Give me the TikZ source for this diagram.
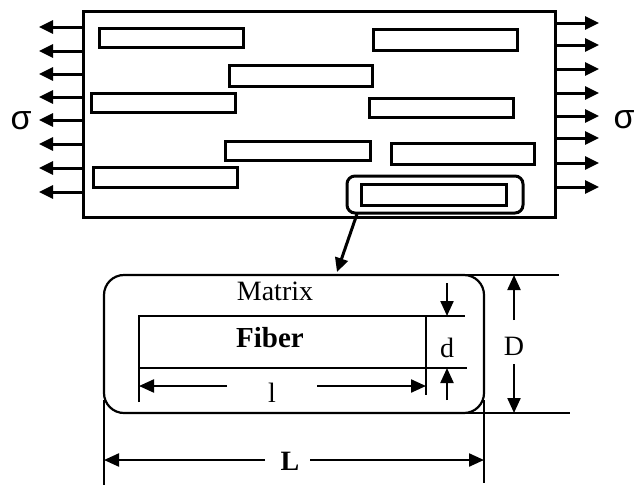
\documentclass[tikz,border=0pt]{standalone}
\usepackage{fontspec}
\setmainfont{Liberation Serif}
\newfontfamily\sigfont{Liberation Sans}
\usetikzlibrary{arrows.meta}

\begin{document}
\begin{tikzpicture}[x=1pt,y=-1pt,
  fib/.style={line width=3pt},
  load/.style={line width=3pt,-{Triangle[length=14pt,width=13pt]}},
  thin2/.style={line width=2.2pt},
  dim/.style={line width=2.2pt,-{Triangle[length=15pt,width=13pt]}},
  lab/.style={font=\fontsize{28}{28}\selectfont,inner sep=0pt}]
  \useasboundingbox (0,0) rectangle (639,485);
  % composite under load
  \draw[fib] (83,11) rectangle (555,217);
  \foreach \xa/\ya/\xb/\yb in {99/28/243/47, 229/65/372/86, 91/93/235/112, 225/141/370/160, 93/167/237/187,
    373/29/517/50, 369/98/513/117, 391/143/534/164, 361/184/506/205}
    \draw[fib] (\xa,\ya) rectangle (\xb,\yb);
  \foreach \y in {27,51,74,97,120,144,168,192} \draw[load] (83,\y) -- (39,\y);
  \foreach \y in {23,45,69,93,116,138,163,187} \draw[load] (555,\y) -- (599,\y);
  \node[lab,font=\sigfont\fontsize{34}{34}\selectfont] (sigL) at (21,121) {σ};
  \node[lab,font=\sigfont\fontsize{34}{34}\selectfont] (sigR) at (624,120) {σ};
  \draw[fib,rounded corners=8pt] (347,176) rectangle (523,213);
  \draw[load] (357,214) -- (337,272);
  % unit cell
  \draw[thin2,rounded corners=20pt] (104,275) rectangle (484,413);
  \draw[thin2] (120,275) -- (559,275);
  \draw[thin2] (120,413) -- (570,413);
  \draw[thin2] (104,400) -- (104,485);
  \draw[thin2] (484,400) -- (484,483);
  \draw[thin2] (139,402) -- (139,316) -- (465,316);
  \draw[thin2] (139,368) -- (467,368);
  \draw[thin2] (426,316) -- (426,395);
  \node[lab] (matrix) at (275,291) {Matrix};
  \node[lab,font=\bfseries\fontsize{29}{29}\selectfont] (fiber) at (270,338) {Fiber};
  \draw[dim] (227,386) -- (139,386);
  \draw[dim] (317,386) -- (426,386);
  \node[lab] (lenl) at (272,393) {l};
  \draw[dim] (447,283) -- (447,316);
  \draw[dim] (447,400) -- (447,368);
  \node[lab] (diad) at (447,348) {d};
  \draw[dim] (514,320) -- (514,275);
  \draw[dim] (514,364) -- (514,413);
  \node[lab] (diaD) at (514,346) {D};
  \draw[dim] (265,460) -- (104,460);
  \draw[dim] (310,460) -- (484,460);
  \node[lab,font=\bfseries\fontsize{28}{28}\selectfont] (lenL) at (290,461) {L};
\end{tikzpicture}
\end{document}
